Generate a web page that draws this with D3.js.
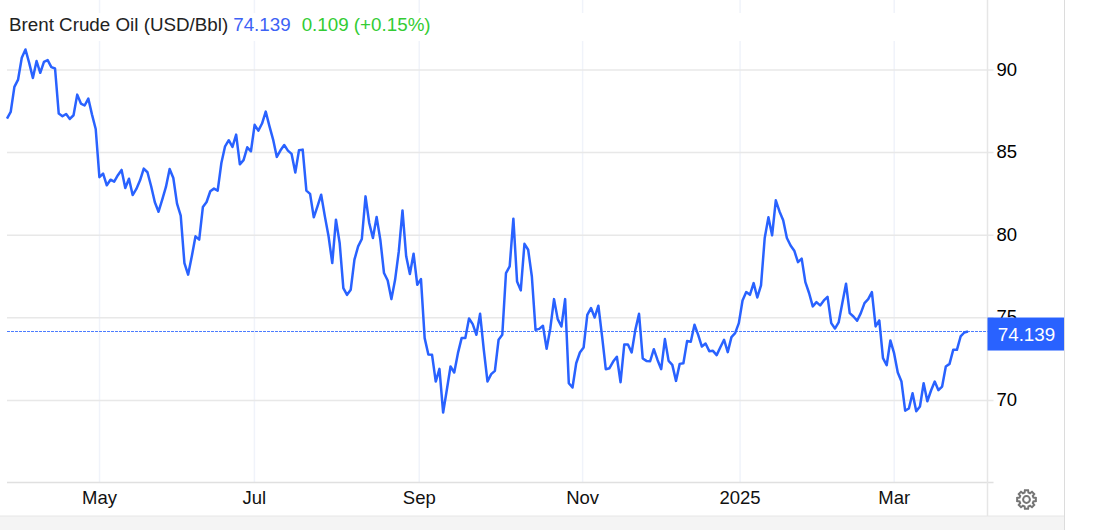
<!DOCTYPE html>
<html>
    <head>
        <meta charset="UTF-8"/>
        <style>
            body { margin: 0; background: #fff; }
            text { font-family: "Liberation Sans", Arial, sans-serif; }
        </style>
    </head>
    <body>
        <script src="https://d3js.org/d3.v7.min.js" type="text/javascript"></script>
        <script>
            // daily closes, one per trading day
            const closes = [
                87.03, 87.43, 88.95, 89.39, 90.71, 91.21, 90.40, 89.49, 90.51, 89.80,
                90.46, 90.57, 90.14, 90.06, 87.33, 87.17, 87.31, 87.01, 87.23, 88.48,
                87.94, 87.82, 88.24, 87.27, 86.40, 83.48, 83.70, 82.99, 83.33, 83.21,
                83.60, 83.92, 82.83, 83.39, 82.40, 82.77, 83.29, 84.00, 83.78, 82.93,
                81.96, 81.39, 82.12, 82.89, 83.98, 83.43, 81.88, 81.15, 78.28, 77.58,
                78.69, 79.90, 79.70, 81.68, 81.98, 82.63, 82.79, 82.67, 84.34, 85.35,
                85.72, 85.31, 86.06, 84.26, 84.51, 85.29, 85.05, 86.65, 86.30, 86.73,
                87.45, 86.57, 85.76, 84.71, 85.11, 85.43, 85.09, 84.89, 83.76, 85.11,
                85.15, 82.67, 82.47, 81.05, 81.72, 82.42, 81.11, 79.90, 78.28, 80.91,
                79.50, 76.77, 76.36, 76.67, 78.49, 79.29, 79.74, 82.32, 80.71, 79.80,
                81.07, 79.70, 77.68, 77.23, 76.10, 77.27, 78.99, 81.47, 78.69, 77.62,
                78.85, 76.97, 77.31, 73.74, 72.75, 72.73, 71.11, 71.88, 69.23, 70.61,
                72.02, 71.66, 72.83, 73.74, 73.74, 74.93, 74.59, 73.94, 75.21, 73.03,
                71.11, 71.56, 71.76, 73.64, 73.94, 77.68, 78.08, 80.97, 77.17, 76.63,
                79.45, 79.09, 77.47, 74.24, 74.30, 74.49, 73.09, 74.34, 76.10, 74.89,
                74.44, 76.10, 71.01, 70.75, 72.22, 72.87, 73.17, 75.15, 75.56, 74.99,
                75.70, 73.84, 71.86, 71.92, 72.32, 72.61, 71.07, 73.35, 73.35, 72.87,
                74.24, 75.21, 72.51, 72.36, 72.34, 73.07, 72.42, 71.86, 73.68, 72.36,
                72.12, 71.15, 72.18, 72.22, 73.56, 73.52, 74.55, 73.94, 73.23, 73.41,
                72.95, 72.97, 72.71, 73.19, 73.64, 72.89, 73.80, 74.04, 74.65, 76.02,
                76.53, 76.36, 77.07, 76.20, 76.93, 79.80, 81.05, 79.96, 82.08, 81.41,
                80.87, 79.80, 79.35, 79.03, 78.34, 78.55, 77.13, 76.47, 75.66, 75.92,
                75.72, 76.02, 76.24, 74.65, 74.32, 74.69, 75.86, 77.03, 75.25, 75.05,
                74.79, 75.25, 75.86, 76.10, 76.53, 74.45, 74.81, 72.53, 72.10, 73.60,
                72.83, 71.66, 71.11, 69.35, 69.48, 70.40, 69.31, 69.60, 71.01, 69.92,
                70.57, 71.11, 70.59, 70.81, 72.02, 72.18, 73.03, 73.03, 73.84, 74.08,
                74.139
            ];
            const monthLabels = ["May", "Jul", "Sep", "Nov", "2025", "Mar"];
            const monthIndex = [24.9, 66.8, 111.4, 155.6, 198.2, 239.9];
            const priceTicks = [70, 75, 80, 85, 90];
            const lastPrice = 74.139;

            const width = 1095;
            const height = 530;
            const blue = "#2962ff";

            const svg = d3.select("body")
                .append("svg")
                .attr("width", width)
                .attr("height", height)
                .style("display", "block");

            const xScale = d3.scaleLinear().domain([0, closes.length - 1]).range([7, 968]);
            const yScale = d3.scaleLinear().domain([65, 90]).range([482.5, 69.5]);
            const plotRight = 987.5;

            // vertical grid runs up to the top edge, title sits over it
            svg.append("g")
                .attr("transform", "translate(0, 483)")
                .call(d3.axisBottom(xScale)
                    .tickValues(monthIndex)
                    .tickSize(-483)
                    .tickPadding(8)
                    .tickFormat((d, i) => monthLabels[i]))
                .call(g => g.select(".domain").remove())
                .call(g => g.selectAll("line").attr("stroke", "#f0f3fa").attr("stroke-width", 1.5))
                .call(g => g.selectAll("text")
                    .attr("fill", "#111")
                    .attr("font-size", 18.5)
                    .style("font-family", "'Liberation Sans', Arial, sans-serif"));

            // horizontal grid, the short bit past the axis line is the tick
            svg.append("g")
                .attr("transform", "translate(" + plotRight + ", 0)")
                .call(d3.axisRight(yScale)
                    .tickValues(priceTicks)
                    .tickSize(0)
                    .tickPadding(9))
                .call(g => g.select(".domain").remove())
                .call(g => g.selectAll("line")
                    .attr("x1", 7 - plotRight)
                    .attr("x2", 6)
                    .attr("stroke", "#e8e8e8")
                    .attr("stroke-width", 1.5))
                .call(g => g.selectAll("text")
                    .attr("fill", "#000")
                    .attr("font-size", 18.5)
                    .attr("dy", "0.3em")
                    .style("font-family", "'Liberation Sans', Arial, sans-serif"));

            svg.append("line")
                .attr("x1", 7).attr("x2", plotRight + 6)
                .attr("y1", yScale(65)).attr("y2", yScale(65))
                .attr("stroke", "#e0e0e0").attr("stroke-width", 1.5);

            svg.append("line")
                .attr("x1", plotRight).attr("x2", plotRight)
                .attr("y1", 0).attr("y2", 516)
                .attr("stroke", "#e6e6e6").attr("stroke-width", 1.5);

            // bottom strip and right border
            svg.append("rect")
                .attr("x", 0).attr("y", 516)
                .attr("width", 1064).attr("height", 14)
                .attr("fill", "#f4f4f4");
            svg.append("line")
                .attr("x1", 0).attr("x2", 1064)
                .attr("y1", 516).attr("y2", 516)
                .attr("stroke", "#e6e6e6");
            svg.append("line")
                .attr("x1", 1064.5).attr("x2", 1064.5)
                .attr("y1", 0).attr("y2", height)
                .attr("stroke", "#dcdcdc");

            // white band behind the title
            svg.append("rect")
                .attr("x", 0).attr("y", 13)
                .attr("width", 980).attr("height", 28)
                .attr("fill", "#fff");

            // last price guide
            const guideY = Math.floor(yScale(lastPrice)) + 0.5;
            svg.append("line")
                .attr("x1", 7).attr("x2", plotRight)
                .attr("y1", guideY).attr("y2", guideY)
                .attr("stroke", "#4d7dff")
                .attr("stroke-width", 1)
                .attr("stroke-dasharray", "3,1");

            const line = d3.line()
                .x((d, i) => xScale(i))
                .y(d => yScale(d));

            svg.append("path")
                .datum(closes)
                .attr("fill", "none")
                .attr("stroke", blue)
                .attr("stroke-width", 2.5)
                .attr("stroke-linejoin", "round")
                .attr("d", line);

            // price tag on the axis
            svg.append("rect")
                .attr("x", plotRight).attr("y", yScale(lastPrice) - 14)
                .attr("width", 1064 - plotRight).attr("height", 33)
                .attr("fill", blue);
            svg.append("text")
                .attr("x", 1026.5).attr("y", yScale(lastPrice) + 9)
                .attr("text-anchor", "middle")
                .attr("fill", "#fff")
                .attr("font-size", 18.8)
                .text(lastPrice);

            const title = svg.append("text")
                .attr("x", 9).attr("y", 31)
                .attr("font-size", 18.8);
            title.append("tspan").attr("fill", "#222").text("Brent Crude Oil (USD/Bbl)");
            title.append("tspan").attr("fill", "#3d62f5").attr("dx", 5).text("74.139");
            title.append("tspan").attr("fill", "#33cc33").attr("dx", 11).text("0.109 (+0.15%)");

            // settings gear
            const gear = svg.append("g")
                .attr("transform", "translate(1026.5, 499.5)")
                .attr("fill", "none")
                .attr("stroke", "#757575")
                .attr("stroke-width", 2);
            const teeth = [];
            d3.range(8).forEach(k => {
                const a = k * Math.PI / 4;
                [[-0.27, 7.2], [-0.17, 9.5], [0.17, 9.5], [0.27, 7.2]].forEach(p => teeth.push([a + p[0], p[1]]));
            });
            gear.append("path").attr("d", d3.lineRadial().curve(d3.curveLinearClosed)(teeth));
            gear.append("circle").attr("r", 3.4);
        </script>
    </body>
</html>
